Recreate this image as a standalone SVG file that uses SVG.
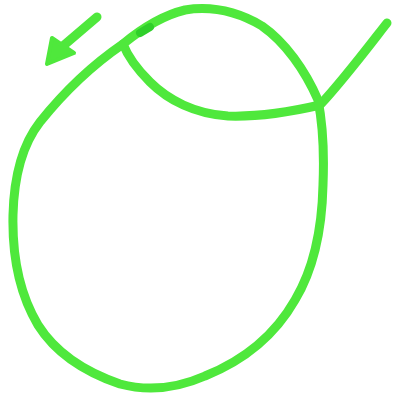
<svg xmlns="http://www.w3.org/2000/svg" width="395" height="396" viewBox="0 0 395 396">
<style>
.ink{fill:none;stroke:#4fe83c;stroke-width:9;stroke-linecap:round;stroke-linejoin:round}
.dark{fill:none;stroke:#2fcf2a;stroke-width:8;stroke-linecap:round}
</style>
<rect width="395" height="396" fill="#ffffff"/>
<g id="curve">
<path class="ink" d="M387,23 C372,42 345,78 320,105 C290,112 258,117 228,116 C195,114 168,100 150,82 C138,70 128,57 123,44"/>
<path class="ink" d="M123,44 C140,30 160,16 185,10 C210,6 235,10 262,26 C285,42 305,70 318,100 C324,130 324,160 323,185 C322,230 313,270 295,300 C275,335 245,360 205,376 C180,387 150,392 120,384 C85,372 55,352 38,325 C20,295 12,260 13,215 C14,175 22,145 40,122 C60,97 85,70 123,44"/>
<path class="dark" d="M140,33 L150,27"/>
</g>
<g id="arrow">
<path class="ink" d="M97,17 L63,46"/>
<path d="M47,64 L52,38 L74,53 Z" fill="#4fe83c" stroke="#4fe83c" stroke-width="4" stroke-linejoin="round"/>
</g>
</svg>
